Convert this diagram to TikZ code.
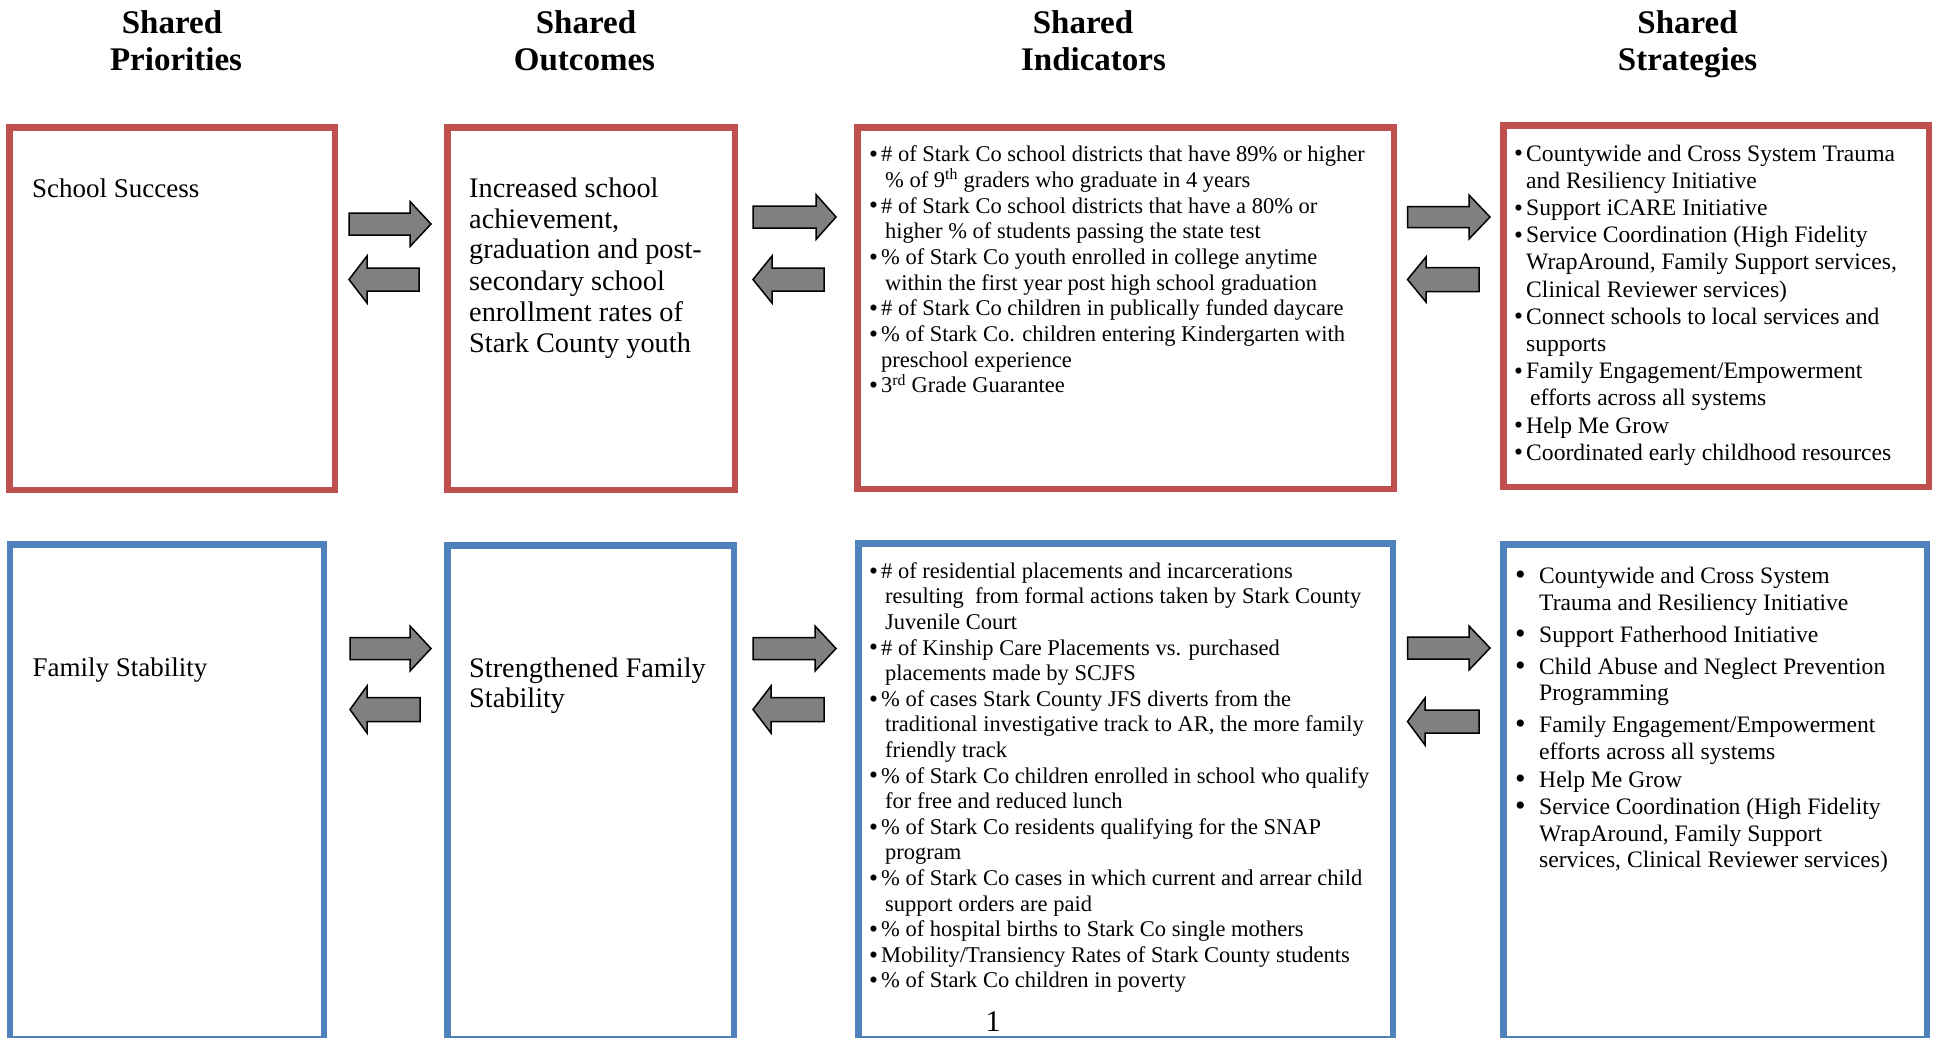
\documentclass[tikz,border=0pt]{standalone}
\usepackage{fontspec}
\setmainfont{Liberation Serif}
\definecolor{boxred}{HTML}{C0504D}
\definecolor{boxblue}{HTML}{4F81BD}
\definecolor{arrowgray}{HTML}{808080}
\newcommand\mybul{\makebox[12pt][l]{\raisebox{-0.7pt}{\fontsize{25.5}{25.5}\selectfont\textbullet}}}
\newcommand\mybulS{\makebox[12pt][l]{\raisebox{-0.7pt}{\fontsize{25.5}{25.5}\selectfont\textbullet}}}
\newcommand\mybigbul{\makebox[24pt][l]{\raisebox{-1.5pt}{\fontsize{30}{30}\selectfont\textbullet}}}
\newcommand\blockR[6]{\path[blockarrow] (#1,{#4-#5}) -- (#2,{#4-#5}) -- (#2,{#4-#6}) -- (#3,#4) -- (#2,{#4+#6}) -- (#2,{#4+#5}) -- (#1,{#4+#5}) -- cycle;}
\newcommand\blockL[6]{\path[blockarrow] (#3,{#4-#5}) -- (#2,{#4-#5}) -- (#2,{#4-#6}) -- (#1,#4) -- (#2,{#4+#6}) -- (#2,{#4+#5}) -- (#3,{#4+#5}) -- cycle;}
\begin{document}
\begin{tikzpicture}[x=1pt,y=-1pt,
  redbox/.style={draw=boxred, line width=6.5pt, inner sep=0pt, outer sep=0pt, fill=white},
  bluebox/.style={draw=boxblue, line width=6.5pt, inner sep=0pt, outer sep=0pt, fill=white},
  hd/.style={anchor=base, inner sep=0pt, font=\fontsize{33}{37}\selectfont\bfseries},
  big/.style={anchor=base west, inner sep=0pt, font=\fontsize{28.3}{31}\selectfont},
  ind/.style={anchor=base west, inner sep=0pt, font=\fontsize{22.5}{25}\selectfont},
  strat/.style={anchor=base west, inner sep=0pt, font=\fontsize{23.6}{27}\selectfont},
  blockarrow/.style={fill=arrowgray, draw=black, line width=1.5pt, line join=miter}]
\useasboundingbox (0,0) rectangle (1933,1037);
\clip (0,0) rectangle (1933,1037);

% headers
\node[hd] (h1a) at (172,33) {Shared};
\node[hd] (h1b) at (176,70) {Priorities};
\node[hd] (h2a) at (586,33) {Shared};
\node[hd] (h2b) at (584.5,70) {Outcomes};
\node[hd] (h3a) at (1083,33) {Shared};
\node[hd] (h3b) at (1093.5,70) {Indicators};
\node[hd] (h4a) at (1687.6,33) {Shared};
\node[hd] (h4b) at (1687.6,70) {Strategies};

% boxes top row
\node[redbox, minimum width=325.5pt, minimum height=362.5pt] (b1) at (172,308.5) {};
\node[redbox, minimum width=287.5pt, minimum height=362.5pt] (b2) at (591,308.5) {};
\node[redbox, minimum width=536.5pt, minimum height=361.5pt] (b3) at (1125.5,308) {};
\node[redbox, minimum width=425.5pt, minimum height=361.5pt] (b4) at (1716,306) {};
% boxes bottom row
\node[bluebox, minimum width=314pt, minimum height=494.5pt] (b5) at (166.75,791.5) {};
\node[bluebox, minimum width=286.5pt, minimum height=493.5pt] (b6) at (590.5,792) {};
\node[bluebox, minimum width=534.5pt, minimum height=495.5pt] (b7) at (1125.5,791) {};
\node[bluebox, minimum width=423.5pt, minimum height=494.5pt] (b8) at (1715,791.5) {};

% arrows top row
\blockR{349}{410}{431}{224}{11}{22.5}
\blockL{349}{367}{419}{279.5}{11.5}{23.5}
\blockR{753}{816}{836}{217}{11}{22.5}
\blockL{753}{772}{824}{279.5}{11.5}{23.5}
\blockR{1407.5}{1469}{1490}{217}{10.5}{22}
\blockL{1407.5}{1426}{1479}{279.5}{12}{22.5}
% arrows bottom row
\blockR{350}{410}{431}{648.5}{11}{22.5}
\blockL{350}{367}{420}{709.5}{12}{23.5}
\blockR{753}{815}{836}{648.5}{11}{22.5}
\blockL{753}{771}{824}{709.5}{12}{23.5}
\blockR{1407.5}{1469}{1490}{648}{11}{22}
\blockL{1407.5}{1425}{1479}{721.5}{11.5}{23.5}

% priorities
\node[anchor=base west, inner sep=0pt, font=\fontsize{27}{31}\selectfont] (p1) at (32,197) {School Success};
\node[anchor=base west, inner sep=0pt, font=\fontsize{27}{31}\selectfont] (p2) at (32.5,676) {Family Stability};

% outcomes
\node[big] (o1) at (469,197) {Increased school};
\node[big] (o2) at (469,228) {achievement,};
\node[big] (o3) at (469,258) {graduation and post-};
\node[big] (o4) at (469,290) {secondary school};
\node[big] (o5) at (469,321) {enrollment rates of};
\node[big] (o6) at (469,352) {Stark County youth};
\node[big] (o7) at (469,677) {Strengthened Family};
\node[big] (o8) at (469,707) {Stability};

% indicators top
\node[ind] (i1) at (869,161.7) {\mybul\# of Stark Co school districts that have 89\% or higher};
\node[ind] (i2) at (885,187.4) {\% of 9\textsuperscript{th} graders who graduate in 4 years};
\node[ind] (i3) at (869,213.0) {\mybul\# of Stark Co school districts that have a 80\% or};
\node[ind] (i4) at (885,238.7) {higher \% of students passing the state test};
\node[ind] (i5) at (869,264.4) {\mybul\% of Stark Co youth enrolled in college anytime};
\node[ind] (i6) at (885,290.1) {within the first year post high school graduation};
\node[ind] (i7) at (869,315.7) {\mybul\# of Stark Co children in publically funded daycare};
\node[ind] (i8) at (869,341.4) {\mybul\% of Stark Co. children entering Kindergarten with};
\node[ind] (i9) at (881,367.1) {preschool experience};
\node[ind] (i10) at (869,392.7) {\mybul3\textsuperscript{rd} Grade Guarantee};

% strategies top
\node[strat] (s1) at (1514,161) {\mybulS Countywide and Cross System Trauma};
\node[strat] (s2) at (1526,188.2) {and Resiliency Initiative};
\node[strat] (s3) at (1514,215.4) {\mybulS Support iCARE Initiative};
\node[strat] (s4) at (1514,242.6) {\mybulS Service Coordination (High Fidelity};
\node[strat] (s5) at (1526,269.8) {WrapAround, Family Support services,};
\node[strat] (s6) at (1526,297) {Clinical Reviewer services)};
\node[strat] (s7) at (1514,324.2) {\mybulS Connect schools to local services and};
\node[strat] (s8) at (1526,351.4) {supports};
\node[strat] (s9) at (1514,378.6) {\mybulS Family Engagement/Empowerment};
\node[strat] (s10) at (1530,405.8) {efforts across all systems};
\node[strat] (s11) at (1514,433) {\mybulS Help Me Grow};
\node[strat] (s12) at (1514,460.2) {\mybulS Coordinated early childhood resources};

% indicators bottom
\node[ind] (j1) at (869,578.3) {\mybul\# of residential placements and incarcerations};
\node[ind] (j2) at (885,603.9) {resulting\ \ from formal actions taken by Stark County};
\node[ind] (j3) at (885,629.5) {Juvenile Court};
\node[ind] (j4) at (869,655.1) {\mybul\# of Kinship Care Placements vs. purchased};
\node[ind] (j5) at (885,680.7) {placements made by SCJFS};
\node[ind] (j6) at (869,706.3) {\mybul\% of cases Stark County JFS diverts from the};
\node[ind] (j7) at (885,731.9) {traditional investigative track to AR, the more family};
\node[ind] (j8) at (885,757.5) {friendly track};
\node[ind] (j9) at (869,783.1) {\mybul\% of Stark Co children enrolled in school who qualify};
\node[ind] (j10) at (885,808.7) {for free and reduced lunch};
\node[ind] (j11) at (869,834.3) {\mybul\% of Stark Co residents qualifying for the SNAP};
\node[ind] (j12) at (885,859.9) {program};
\node[ind] (j13) at (869,885.5) {\mybul\% of Stark Co cases in which current and arrear child};
\node[ind] (j14) at (885,911.1) {support orders are paid};
\node[ind] (j15) at (869,936.7) {\mybul\% of hospital births to Stark Co single mothers};
\node[ind] (j16) at (869,962.3) {\mybul Mobility/Transiency Rates of Stark County students};
\node[ind] (j17) at (869,987.9) {\mybul\% of Stark Co children in poverty};

% strategies bottom
\node[strat] (t1) at (1515,583) {\mybigbul Countywide and Cross System};
\node[strat] (t2) at (1539,610) {Trauma and Resiliency Initiative};
\node[strat] (t3) at (1515,642) {\mybigbul Support Fatherhood Initiative};
\node[strat] (t4) at (1515,674) {\mybigbul Child Abuse and Neglect Prevention};
\node[strat] (t5) at (1539,700) {Programming};
\node[strat] (t6) at (1515,732) {\mybigbul Family Engagement/Empowerment};
\node[strat] (t7) at (1539,759) {efforts across all systems};
\node[strat] (t8) at (1515,787) {\mybigbul Help Me Grow};
\node[strat] (t9) at (1515,814) {\mybigbul Service Coordination (High Fidelity};
\node[strat] (t10) at (1539,841) {WrapAround, Family Support};
\node[strat] (t11) at (1539,867) {services, Clinical Reviewer services)};

% page number
\node[anchor=base, inner sep=0pt, font=\fontsize{30}{30}\selectfont] (pg) at (993,1031) {1};
\end{tikzpicture}
\end{document}
